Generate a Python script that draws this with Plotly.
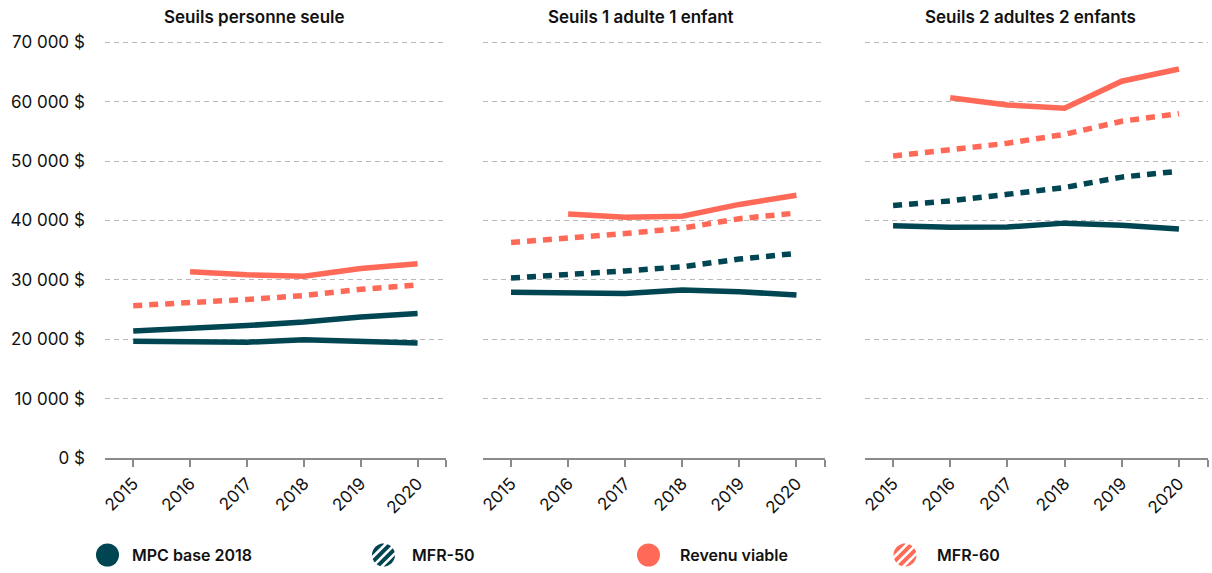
import numpy as np
import plotly.graph_objects as go

# ---------------- data ----------------
years = [2015, 2016, 2017, 2018, 2019, 2020]
year_labels = ["2015", "2016", "2017", "2018", "2019", "2020"]
panel_titles = ["Seuils personne seule", "Seuils 1 adulte 1 enfant", "Seuils 2 adultes 2 enfants"]
series_names = ["MPC base 2018", "MFR-50", "Revenu viable", "MFR-60"]

y_tickvals = [0, 10000, 20000, 30000, 40000, 50000, 60000, 70000]
y_ticktext = ["0 $", "10 000 $", "20 000 $", "30 000 $", "40 000 $", "50 000 $", "60 000 $", "70 000 $"]

# Seuils personne seule
mpc_seule = [19650, 19500, 19500, 19900, 19650, 19350]
mfr50_seule = [21400, 21750, 22300, 22900, 23750, 24350]
rv_seule = [None, 31350, 30850, 30600, 31900, 32700]
mfr60_seule = [25650, 26100, 26700, 27350, 28400, 29150]

# Seuils 1 adulte 1 enfant
mpc_1a1e = [27900, 27700, 27700, 28300, 28000, 27450]
mfr50_1a1e = [30300, 30800, 31500, 32200, 33500, 34450]
rv_1a1e = [None, 41100, 40550, 40700, 42700, 44250]
mfr60_1a1e = [36300, 37000, 37800, 38700, 40300, 41250]

# Seuils 2 adultes 2 enfants
mpc_2a2e = [39100, 38850, 38900, 39550, 39200, 38550]
mfr50_2a2e = [42500, 43300, 44400, 45550, 47300, 48300]
rv_2a2e = [None, 60650, 59450, 58900, 63450, 65500]
mfr60_2a2e = [50850, 51850, 53000, 54500, 56700, 58000]

panels = [
    [mpc_seule, mfr50_seule, rv_seule, mfr60_seule],
    [mpc_1a1e, mfr50_1a1e, rv_1a1e, mfr60_1a1e],
    [mpc_2a2e, mfr50_2a2e, rv_2a2e, mfr60_2a2e],
]

# ---------------- styles ----------------
TEAL = "#004652"
CORAL = "#FF6957"
series_colors = [TEAL, TEAL, CORAL, CORAL]
DOT = "9px,7px"
# (first panel draws MFR-50 as a solid line, like the reference)
panel_dashes = [
    ["solid", "solid", "solid", DOT],
    ["solid", DOT, "solid", DOT],
    ["solid", DOT, "solid", DOT],
]
FONT = "Inter, 'Noto Sans', sans-serif"

W, H = 1212, 573
x_px = [(104.8, 446.0), (482.5, 825.0), (864.5, 1207.5)]
Y_MAX = 70300
px_per_unit = (458.0 - 42.3) / 70000
y_bot_px = 458.0
y_top_px = y_bot_px - Y_MAX * px_per_unit
title_cx = [254, 641, 1030]

fig = go.Figure()
layout = dict(
    width=W, height=H,
    margin=dict(l=0, r=0, t=0, b=0, pad=0, autoexpand=False),
    paper_bgcolor="white", plot_bgcolor="white",
    showlegend=False,
    font=dict(family=FONT, color="#111111"),
)

n_p = len(panels)
for i, data in enumerate(panels):
    xa = "x" if i == 0 else f"x{i+1}"
    ya = "y" if i == 0 else f"y{i+1}"
    for j, vals in enumerate(data):
        fig.add_trace(go.Scatter(
            x=years, y=vals, mode="lines",
            line=dict(color=series_colors[j], width=5.5, dash=panel_dashes[i][j]),
            xaxis=xa, yaxis=ya, name=series_names[j], hoverinfo="skip",
            connectgaps=False,
        ))
    xkey = "xaxis" if i == 0 else f"xaxis{i+1}"
    ykey = "yaxis" if i == 0 else f"yaxis{i+1}"
    common_x = dict(
        domain=[x_px[i][0] / W, x_px[i][1] / W],
        range=[years[0] - 0.5, years[-1] + 0.5],
        anchor=ya,
        tickvals=years + [years[-1] + 0.5],
        tickwidth=2, tickcolor="#8a8a8a", ticklen=7,
        showgrid=False, zeroline=False, automargin=False, fixedrange=True,
    )
    layout[xkey] = dict(
        **common_x,
        ticktext=year_labels + [""],
        tickangle=-45,
        ticks="outside",
        showline=True, linecolor="#8a8a8a", linewidth=2,
        tickfont=dict(size=17, family=FONT, color="#111111"),
    )
    # overlay axis giving the upward half of each tick mark
    okey = f"xaxis{n_p + i + 1}"
    layout[okey] = dict(
        **common_x,
        overlaying=xa,
        side="bottom",
        ticks="inside",
        showticklabels=False,
        showline=False,
    )
    layout[ykey] = dict(
        domain=[(H - y_bot_px) / H, (H - y_top_px) / H],
        range=[0, Y_MAX],
        anchor=xa,
        tickvals=y_tickvals,
        ticktext=y_ticktext,
        showticklabels=(i == 0),
        ticks="",
        ticklabelstandoff=19,
        showgrid=True, gridcolor="#b8b8b8", gridwidth=1, griddash="5px,4px",
        zeroline=False, showline=False, automargin=False,
        tickfont=dict(size=17, family=FONT, color="#111111"),
        fixedrange=True,
    )

annotations = []
for i, t in enumerate(panel_titles):
    annotations.append(dict(
        text=t, x=title_cx[i] / W, y=1 - 17 / H, xref="paper", yref="paper",
        xanchor="center", yanchor="middle", showarrow=False,
        font=dict(size=17, family=FONT, color="#111111", weight=600),
    ))

# ---------------- legend (manual) ----------------
legend_marker_x = [107.5, 383.5, 648.5, 905.0]
legend_text_x = [130, 410, 678, 935]
legend_hatched = [False, True, False, True]
legend_y = 555
R = 11.5

shapes = []


def hatch_path(r, period=6.6, gap=2.6):
    # stripes "//" inside a circle of radius r (pixel coordinates, y up)
    t = np.array([1.0, 1.0]) / np.sqrt(2)
    n = np.array([1.0, -1.0]) / np.sqrt(2)
    parts = []
    s = -r
    while s < r:
        s1, s2 = s, min(s + period - gap, r)
        ss = np.linspace(s1, s2, 8)
        u = np.sqrt(np.clip(r * r - ss * ss, 0, None))
        pts = [(uu * t + sv * n) for uu, sv in zip(u, ss)]
        pts += [(-uu * t + sv * n) for uu, sv in zip(u[::-1], ss[::-1])]
        parts.append("M" + " L".join(f"{p[0]:.2f},{p[1]:.2f}" for p in pts) + " Z")
        s += period
    return " ".join(parts)


for k in range(4):
    cx = legend_marker_x[k] / W
    cy = 1 - legend_y / H
    if legend_hatched[k]:
        shapes.append(dict(
            type="path", xref="paper", yref="paper",
            xsizemode="pixel", ysizemode="pixel", xanchor=cx, yanchor=cy,
            path=hatch_path(R), fillcolor=series_colors[k], line=dict(width=0),
        ))
    else:
        shapes.append(dict(
            type="circle", xref="paper", yref="paper",
            xsizemode="pixel", ysizemode="pixel", xanchor=cx, yanchor=cy,
            x0=-R, x1=R, y0=-R, y1=R,
            fillcolor=series_colors[k], line=dict(width=0),
        ))
    annotations.append(dict(
        text=series_names[k], x=legend_text_x[k] / W, y=cy,
        xref="paper", yref="paper", xanchor="left", yanchor="middle",
        showarrow=False,
        font=dict(size=16, family=FONT, color="#111111", weight=600),
    ))

layout["annotations"] = annotations
layout["shapes"] = shapes
fig.update_layout(**layout)

fig.write_html(
    "out.html",
    config={"displayModeBar": False},
    post_script="document.body.style.margin='0';document.body.style.overflow='hidden';",
)
